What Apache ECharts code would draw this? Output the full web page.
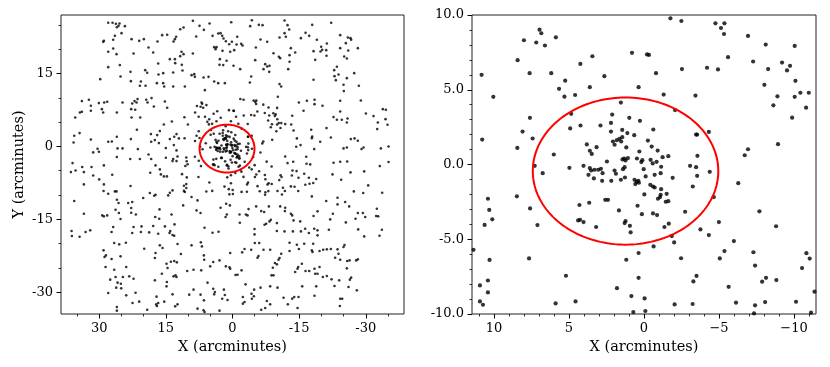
<!DOCTYPE html>
<html>
<head>
<meta charset="utf-8">
<script src="https://cdn.jsdelivr.net/npm/echarts@6/dist/echarts.min.js"></script>
<style>
  html, body { margin: 0; background: #fff; }
  #chart { width: 830px; height: 367px; }
</style>
</head>
<body>
<div id="chart"></div>
<script>
// stars inside the zoomed window (|x| < 11.5, |y| < 10), arcminutes
const starsCore = [
  [5.66,5.06],[5.25,5.61],[5.30,4.54],[4.59,4.65],[3.61,5.17],[0.36,5.17],[-1.31,4.68],[-3.43,4.61],[1.54,4.14],[4.85,3.39],
  [7.60,3.12],[2.12,3.34],[4.23,2.61],[2.90,2.61],[2.20,2.78],[0.98,3.12],[0.27,2.92],[4.92,2.41],[8.09,2.20],[7.42,1.74],
  [-0.62,2.34],[2.20,2.20],[2.07,1.54],[1.81,1.63],[1.63,1.72],[1.45,1.83],[1.11,2.10],[0.65,1.96],[1.45,2.31],[1.52,1.54],
  [1.18,1.14],[1.96,1.32],[-4.32,2.18],[-3.47,2.00],[-3.54,2.00],[3.81,1.34],[3.61,0.92],[3.48,0.71],[3.16,1.16],[-0.26,1.60],
  [-0.51,1.20],[-0.91,0.93],[0.31,0.87],[-1.24,0.49],[-1.62,0.56],[-3.56,0.58],[6.01,0.67],[4.03,-0.09],[2.47,0.20],[1.32,0.40],
  [1.23,0.27],[1.07,0.43],[1.43,0.34],[0.47,0.40],[0.11,0.29],[0.18,0.16],[-0.44,0.31],[-0.84,0.18],[-0.58,0.07],[-1.14,-0.15],
  [4.97,-0.22],[3.61,-0.24],[3.52,-0.40],[3.30,-0.35],[3.05,-0.35],[2.87,-0.29],[2.76,-0.58],[3.70,-0.69],[3.34,-0.93],[2.79,-1.09],
  [2.18,-1.09],[1.96,-0.40],[1.87,-0.62],[1.29,-0.18],[1.40,-0.31],[1.27,-0.87],[1.54,-1.02],[0.63,-1.02],[0.49,-1.16],[0.38,-1.09],
  [0.58,-1.31],[0.34,-1.22],[0.02,-0.31],[-0.11,-0.80],[-0.71,-0.69],[-1.11,-0.58],[-0.42,-1.36],[-0.60,-1.47],[-0.71,-1.54],[-1.14,-1.65],
  [-1.51,-1.96],[-1.62,-2.45],[-1.45,-2.49],[-1.11,-2.03],[-1.07,-2.18],[-0.93,-2.29],[-3.07,-0.09],[-3.47,-0.18],[-3.54,-0.76],[-4.38,-0.49],
  [-1.91,-0.89],[-3.25,-1.47],[-6.28,-1.25],[-4.65,-2.18],[7.28,-0.09],[6.75,-0.58],[-0.02,-2.00],[2.58,-2.36],[2.40,-2.36],[7.59,-2.94],
  [4.30,-2.71],[3.65,-2.56],[0.43,-2.76],[1.67,-3.07],[-2.74,-3.16],[0.14,-3.32],[-0.60,-3.27],[-0.87,-3.38],[-4.99,-3.85],[4.39,-3.74],
  [4.26,-3.70],[4.03,-3.85],[3.19,-4.18],[1.23,-3.78],[1.29,-3.92],[0.94,-4.10],[0.89,-4.54],[-1.36,-4.18],[-1.65,-3.96],[-1.85,-4.79],
  [-2.01,-5.21],[-3.76,-4.34],[-4.32,-4.72],[-5.99,-5.12],[-5.36,-5.79],[-5.05,-6.28],[7.10,-4.05],[-0.64,-5.48],[0.36,-5.92],[7.66,-6.28],
  [1.18,-6.37],[-2.07,3.64],
  [-1.76,9.78],[-2.49,9.60],[-4.76,9.44],[-5.36,9.44],[-5.13,9.13],[-5.33,8.73],[6.96,9.02],[6.84,8.78],[8.00,8.31],[7.18,8.16],
  [6.60,7.96],[5.87,8.51],[-6.93,8.60],[-8.11,8.02],[-10.04,7.93],[0.80,7.47],[-0.20,7.36],[-0.33,7.33],[3.44,7.24],[-5.60,7.18],
  [8.42,6.98],[-7.27,6.89],[-9.20,6.82],[-9.73,6.60],[-9.53,6.29],[4.24,6.73],[-4.20,6.47],[-4.93,6.36],[-2.53,6.38],[10.82,6.00],
  [7.62,6.11],[6.18,6.11],[2.64,5.91],[-0.80,6.11],[-8.27,6.38],[-8.02,5.33],[-10.09,5.60],[-8.89,4.56],[-10.04,4.53],[-10.42,4.80],
  [-10.98,4.80],[-10.80,3.80],[-8.62,3.96],[-9.87,3.13],[-8.93,1.36],[-6.93,1.02],[-6.71,0.62],[-7.69,-3.13],[-8.80,-4.13],[-7.29,-5.87],
  [-10.82,-5.93],[10.04,4.53],[10.78,1.67],[8.44,1.11],[8.47,-2.13],[10.40,-2.29],[10.31,-3.04],[10.11,-3.67],[10.62,-4.04],[11.36,-5.71],
  [10.29,-6.38],[-2.47,-6.27],[-11.04,-6.29],[-7.40,-6.76],[-10.53,-6.93],[5.20,-7.44],[-3.50,-7.45],[0.36,-7.58],[-3.29,-7.82],[-8.13,-7.58],
  [-7.87,-7.84],[-8.82,-7.73],[10.40,-7.76],[10.93,-8.09],[10.40,-8.56],[1.80,-8.27],[-5.64,-8.18],[0.84,-8.80],[-0.04,-8.96],[-11.36,-8.51],
  [10.93,-9.16],[10.73,-9.38],[5.89,-9.29],[4.56,-9.16],[-2.04,-9.36],[-3.24,-9.33],[-6.13,-9.24],[-7.40,-9.42],[-8.07,-9.20],[-10.13,-9.18],
  [0.71,-9.87],[-0.09,-9.80],[-7.33,-9.96],[-11.13,-9.91]
];

// stars of the wide field, outside the zoomed window
const starsOuter = [
  [27.97,25.45],[27.0,25.45],[26.25,25.24],[25.43,25.31],[25.65,24.83],[26.03,24.55],[24.22,24.76],[8.92,25.86],[7.42,24.83],[5.17,25.31],
  [6.44,24.0],[11.02,24.49],[11.77,24.14],[24.97,23.32],[26.48,22.77],[26.85,21.95],[28.95,21.74],[29.1,21.53],[22.72,22.09],[21.0,21.74],
  [19.95,22.09],[16.88,21.6],[15.83,22.91],[14.7,22.98],[12.68,22.57],[12.97,22.09],[13.27,21.6],[8.17,22.63],[4.49,22.77],[3.22,23.25],
  [2.7,23.32],[2.32,22.77],[2.02,22.22],[1.49,21.67],[0.74,21.05],[27.97,19.48],[26.85,20.16],[26.1,19.0],[22.27,19.14],[18.9,20.37],
  [17.85,19.34],[14.1,17.97],[12.97,17.97],[12.9,17.15],[11.77,18.59],[11.47,19.48],[11.02,19.0],[8.92,19.14],[4.12,20.44],[3.59,20.44],
  [3.82,20.03],[2.25,19.68],[27.97,16.32],[25.35,16.74],[22.95,15.36],[19.65,15.71],[19.2,15.16],[16.72,17.08],[16.65,14.81],[15.6,15.09],
  [13.35,15.23],[11.4,16.8],[11.25,15.64],[8.62,14.88],[9.22,14.68],[8.47,14.33],[6.52,14.2],[5.39,14.33],[2.84,17.97],[2.92,16.8],
  [2.09,16.74],[1.34,17.63],[29.77,13.85],[25.2,14.4],[22.87,13.44],[20.62,13.37],[20.85,12.48],[19.57,12.48],[17.02,13.03],[15.6,13.03],
  [15.37,12.35],[13.35,12.35],[10.72,12.35],[6.22,11.59],[4.12,13.37],[3.22,13.03],[1.72,13.03],[33.9,9.33],[32.33,9.6],[31.88,8.37],
  [31.88,7.34],[30.08,8.92],[28.87,9.05],[28.2,9.19],[29.4,7.68],[29.1,7.0],[26.03,7.0],[24.75,9.05],[22.57,8.85],[22.05,9.33],
  [21.37,9.74],[21.6,9.05],[22.8,7.68],[21.9,7.54],[19.42,9.6],[19.12,9.05],[18.22,9.95],[17.7,8.23],[15.22,9.26],[14.7,7.96],
  [35.4,5.97],[34.35,7.0],[33.9,7.13],[22.72,5.97],[20.77,5.97],[21.52,3.43],[15.45,4.53],[13.65,5.14],[35.62,2.19],[34.42,2.74],
  [35.77,0.82],[31.88,1.44],[27.97,0.96],[27.15,1.03],[26.03,1.99],[24.75,-0.41],[25.87,-0.41],[22.87,1.51],[21.3,-0.55],[18.37,2.54],
  [18.3,0.96],[17.48,1.3],[16.95,2.33],[16.57,0.69],[16.35,3.16],[15.0,-0.34],[14.1,1.51],[13.12,1.99],[12.6,2.54],[12.07,1.65],
  [13.2,0.27],[12.6,-0.82],[31.35,-1.23],[30.37,-0.48],[30.07,-1.1],[26.03,-2.19],[23.02,-2.6],[20.85,-2.6],[18.9,-1.65],[18.3,-2.6],
  [15.0,-2.33],[13.35,-2.6],[12.37,-2.06],
  [0.29,25.58],[-4.36,25.99],[-3.98,24.76],[-5.93,25.03],[-6.76,24.97],[-11.71,25.93],[-12.39,24.97],[-12.76,24.08],[-17.94,25.03],[-22.21,25.45],
  [-11.71,23.32],[-10.59,22.43],[-12.01,22.57],[-6.31,22.02],[-7.81,21.54],[-1.06,22.57],[-16.44,23.39],[-17.26,22.77],[-15.39,22.29],[-18.99,21.95],
  [-24.24,22.91],[-25.96,22.43],[-26.56,22.29],[-26.71,21.95],[-25.51,21.26],[-21.24,21.19],[0.14,21.54],[-0.91,20.99],[-1.96,21.12],[-2.26,20.78],
  [-5.26,20.37],[-0.38,19.82],[0.52,19.48],[-9.23,19.2],[-10.43,18.45],[-10.73,18.18],[-12.84,18.79],[-13.13,20.23],[-14.11,19.34],[-18.24,19.62],
  [-19.96,20.51],[-20.19,19.89],[-19.81,19.55],[-21.09,19.82],[-24.24,20.23],[-28.21,20.23],[-26.04,19.75],[-5.11,17.76],[-7.36,16.94],[-7.81,16.46],
  [-8.33,16.6],[-6.98,15.91],[-8.26,15.36],[-12.84,17.42],[-12.54,15.91],[-0.23,16.6],[-1.73,15.91],[-18.61,17.83],[-21.16,18.66],[-25.14,18.52],
  [-25.74,18.11],[-23.49,16.39],[-22.89,15.71],[-23.86,14.81],[-4.21,14.4],[-3.91,13.17],[-10.59,12.83],[-10.96,12.35],[-18.24,13.72],[-22.96,14.47],
  [-23.26,13.65],[-25.74,14.06],[-27.39,15.09],[-24.99,12.69],[-25.06,11.39],[-28.44,12.48],[-10.21,10.22],[-14.94,9.05],[-16.74,9.4],[-18.46,9.6],
  [-18.46,8.71],[-20.26,8.37],[-15.99,7.34],[-24.24,9.4],[-28.89,9.47],[-24.24,7.2],[-22.74,6.04],[-23.49,5.49],[-24.61,5.49],[-25.89,5.76],
  [-25.74,4.94],[-30.02,6.79],[-31.74,6.24],[-33.84,7.68],[-34.52,7.54],[-32.71,4.94],[-34.44,5.62],[-34.89,4.46],[-32.57,3.57],[-11.86,4.6],
  [-13.44,6.31],[-13.21,4.53],[-13.74,3.29],[-17.71,3.43],[-21.16,3.77],[-17.94,2.06],[-17.86,1.71],[-14.49,1.65],[-19.74,0.96],[-22.14,1.85],
  [-15.31,0.27],[-14.34,-0.07],[-18.39,-0.55],[-24.99,-0.41],[-25.74,-0.21],[-26.64,1.51],[-27.47,1.65],[-28.21,1.17],[-29.49,-0.21],[-29.04,-0.55],
  [-33.39,-0.41],[-35.12,0],[-11.86,-2.06],[-16.59,-2.13],
  [36.0,-3.43],[33.83,-4.25],[31.73,-4.25],[35.32,-4.94],[36.37,-5.28],[33.45,-5.28],[31.35,-5.97],[30.0,-6.79],[28.95,-3.91],[27.07,-5.83],
  [33.45,-7.82],[28.95,-7.82],[29.02,-9.19],[27.97,-9.74],[26.47,-9.26],[26.1,-9.26],[22.95,-8.16],[18.52,-5.42],[17.32,-3.91],[16.35,-4.73],
  [16.12,-5.76],[15.45,-6.17],[14.77,-6.17],[13.5,-3.02],[12.6,-3.02],[35.62,-11.25],[33.45,-13.85],[29.32,-14.2],[28.95,-14.4],[28.2,-14.2],
  [26.02,-10.97],[25.65,-11.66],[26.32,-13.03],[25.57,-13.72],[25.2,-14.95],[23.47,-11.66],[22.57,-11.45],[22.8,-12.69],[22.8,-13.65],[21.75,-14.0],
  [20.1,-10.63],[18.6,-9.6],[17.62,-10.15],[17.32,-9.95],[16.42,-12.96],[17.4,-14.54],[16.5,-14.88],[14.47,-10.08],[14.1,-9.53],[13.5,-9.05],
  [13.72,-14.0],[13.05,-16.05],[11.1,-12.14],[9.22,-10.42],[7.87,-11.11],[8.09,-13.17],[7.19,-13.72],[2.69,-12.62],[1.42,-11.8],[1.27,-14.0],
  [1.57,-14.54],[0.59,-12.14],[36.22,-17.42],[36.15,-18.45],[34.42,-18.59],[33.07,-17.63],[32.02,-17.28],[27.22,-17.63],[26.85,-16.6],[22.57,-17.83],
  [22.27,-16.6],[20.47,-16.46],[20.62,-17.63],[18.75,-17.7],[17.85,-16.39],[15.22,-16.46],[14.02,-17.42],[14.17,-17.83],[13.5,-18.24],[13.12,-18.38],
  [16.72,-17.97],[6.29,-16.74],[4.49,-17.76],[3.14,-17.56],[29.02,-21.4],[28.5,-22.43],[28.8,-22.77],[27.22,-23.18],[26.62,-19.89],[25.5,-20.16],
  [24.0,-19.82],[25.2,-22.63],[23.92,-24.83],[19.87,-21.06],[17.32,-21.95],[17.47,-22.98],[16.35,-20.37],[15.75,-20.92],[13.87,-23.73],[13.12,-23.59],
  [12.52,-23.87],[14.85,-24.14],[14.62,-25.03],[12.37,-20.1],[11.62,-22.15],[9.22,-20.37],[7.12,-19.75],[6.89,-20.58],[6.44,-22.43],[6.37,-23.32],
  [4.34,-23.8],[2.92,-23.46],[5.02,-24.69],[1.49,-24.69],[0.67,-24.9],[28.57,-24.83],[26.62,-25.38],[27.52,-27.43],[26.32,-26.89],[24.67,-26.89],
  [23.25,-26.75],[22.27,-27.23],[25.87,-28.05],[25.12,-28.26],[26.17,-29.08],[25.05,-29.22],[27.97,-30.18],[23.92,-30.66],[21.82,-30.11],[17.47,-27.57],
  [15.9,-26.2],[14.77,-27.91],[14.85,-28.81],[13.27,-26.75],[12.82,-26.54],[12.6,-26.89],[13.5,-30.45],[10.19,-25.65],[8.77,-25.38],[7.04,-25.51],
  [9.74,-30.52],[8.77,-29.49],[7.19,-30.52],[6.44,-31.69],[5.62,-28.05],[4.34,-29.29],[3.97,-29.97],[4.12,-30.45],[1.94,-29.49],[1.72,-30.59],
  [2.32,-31.35],[1.12,-31.62],[22.5,-32.24],[21.0,-31.96],[19.2,-33.61],[17.1,-30.93],[17.17,-32.51],[16.72,-32.24],[17.02,-32.85],[15.37,-31.96],
  [12.9,-32.92],[12.37,-32.51],[7.87,-33.4],[6.52,-33.74],[6.29,-34.09],[2.92,-33.81],[26.03,-33.06],[26.03,-33.81],
  [-12.39,-3.43],[-13.66,-3.16],[-16.66,-3.57],[-17.49,-3.7],[-22.74,-3.36],[-24.24,-3.16],[-25.81,-3.09],[-26.56,-5.35],[-29.64,-5.14],[-33.16,-4.05],
  [-35.12,-3.22],[-13.51,-4.94],[-14.41,-5.08],[-16.14,-5.62],[-13.36,-5.97],[-17.19,-6.45],[-18.84,-6.72],[-14.86,-6.45],[-16.39,-7.89],[-17.34,-7.68],
  [-18.17,-7.54],[-13.14,-8.23],[-13.96,-8.3],[-11.79,-9.19],[-14.79,-9.19],[-22.51,-5.76],[-24.46,-6.86],[-27.31,-9.26],[-29.42,-9.6],[-30.54,-8.02],
  [-33.69,-9.53],[-17.86,-10.29],[-21.09,-11.25],[-23.64,-10.56],[-23.64,-11.93],[-25.36,-11.45],[-26.26,-12.35],[-28.21,-13.72],[-29.34,-13.72],[-29.87,-14.54],
  [-27.69,-14.88],[-32.49,-12.83],[-32.34,-14.33],[-32.79,-14.4],[-33.62,-17.15],[-33.09,-18.38],[-25.51,-15.64],[-21.99,-15.02],[-22.59,-13.85],[-19.14,-13.37],
  [-18.24,-14.33],[-15.24,-15.43],[-13.74,-15.23],[-13.44,-14.2],[-13.14,-13.85],[-11.79,-13.31],[-11.86,-12.62],[-10.74,-12.35],[-8.18,-12.35],[-7.13,-13.51],
  [-6.46,-13.31],[-5.33,-12.35],[-3.61,-12.9],[-1.58,-14.0],[-3.01,-14.0],[-3.38,-14.2],[-1.66,-15.71],[-8.63,-15.09],[-8.33,-15.43],[-7.58,-15.91],
  [-7.21,-16.12],[-9.99,-15.78],[-9.99,-17.42],[-11.71,-17.49],[-13.59,-17.49],[-15.39,-17.49],[-16.36,-16.94],[-17.19,-17.83],[-18.39,-16.94],[-19.14,-17.28],
  [-19.14,-18.31],[-21.69,-17.15],[-28.29,-17.08],[-29.64,-18.52],[-4.96,-17.01],[-4.96,-18.11],[-5.03,-19.89],[-6.01,-19.89],[-6.98,-21.26],[-2.71,-21.12],
  [-2.18,-21.81],[-4.21,-21.26],[-5.86,-22.56],[-5.63,-22.91],[-8.48,-21.26],[-10.96,-22.09],[-10.59,-22.98],[-10.36,-23.32],[-9.54,-24.01],[-9.99,-24.28],
  [-9.08,-24.97],[-8.78,-26.54],[-9.23,-26.54],[-12.84,-19.82],[-12.84,-21.54],[-14.49,-20.23],[-14.94,-21.12],[-16.14,-20.03],[-17.86,-21.4],[-18.16,-20.03],
  [-19.59,-21.54],[-18.01,-21.74],[-20.41,-21.26],[-21.24,-21.19],[-22.14,-21.12],[-23.64,-21.19],[-25.21,-20.3],[-24.99,-20.71],[-23.86,-22.09],[-23.11,-22.91],
  [-24.24,-23.32],[-25.81,-23.59],[-26.34,-23.46],[-27.84,-23.46],[-28.21,-23.25],[-25.74,-25.1],[-15.61,-24.14],[-14.79,-24.83],[-14.63,-25.17],[-14.11,-25.86],
  [-16.44,-25.65],[-17.26,-25.65],[-18.61,-26.2],[-19.14,-26.2],[-18.46,-25.17],[-19.59,-24.83],[-20.34,-26.89],[-21.24,-26.68],[-22.29,-27.37],[-24.01,-27.57],
  [-26.41,-27.43],[-26.71,-27.02],[-22.96,-28.74],[-26.11,-28.94],[-27.99,-29.63],[-18.84,-28.81],[-15.69,-28.81],[-18.46,-30.73],[-13.89,-31.0],[-14.86,-31.0],
  [-13.44,-31.34],[-12.46,-32.51],[-14.64,-33.27],[-11.49,-31.14],[-8.48,-28.81],[-10.13,-29.08],[-6.31,-29.08],[-4.88,-29.49],[-2.93,-28.4],[-0.68,-26.47],
  [-1.13,-26.41],[-2.03,-25.51],[0.52,-25.17],[0.52,-21.95],[-4.28,-30.32],[-4.81,-30.86],[-4.36,-31.35],[-2.33,-31.0],[-2.71,-32.03],[-2.33,-32.37],
  [-7.73,-31.82],[-8.48,-32.51],[-6.46,-33.61],[-7.36,-33.27],[-24.24,-31.35],[-24.69,-31.35],[-24.16,-32.85]
];

// red ellipse: centre x, centre y, radius x, radius y
const ellipse = [1.23, -0.44, 6.18, 4.92];

const leftTicksX = [30, 15, 0, -15, -30];
const leftTicksY = [15, 0, -15, -30];
const leftMinorX = [35, 25, 20, 10, 5, -5, -10, -20, -25, -35];
const leftMinorY = [25, 20, 10, 5, -5, -10, -20, -25];
const rightTicksX = [10, 5, 0, -5, -10];
const rightTicksY = [10, 5, 0, -5, -10];
const rightMinorX = [11, 9, 8, 7, 6, 4, 3, 2, 1, -1, -2, -3, -4, -6, -7, -8, -9, -11];
const rightMinorY = [9, 8, 7, 6, 4, 3, 2, 1, -1, -2, -3, -4, -6, -7, -8, -9];

const FONT = 'DejaVu Serif';
const allStars = starsCore.concat(starsOuter);

function makeAxes(gridIndex, position, min, max, inverse, major, minor, fmt, name, nameGap) {
  const base = {
    type: 'value',
    gridIndex,
    position,
    min,
    max,
    inverse,
    splitLine: { show: false },
    axisLine: { show: false, onZero: false },
  };
  return [
    {
      ...base,
      name,
      nameLocation: 'middle',
      nameGap,
      nameTextStyle: { fontFamily: FONT, fontSize: 14.5, color: '#000' },
      axisTick: { show: true, length: 4.5, customValues: major, lineStyle: { color: '#000', width: 1 } },
      axisLabel: { customValues: major, formatter: fmt, fontFamily: FONT, fontSize: 13, color: '#000', margin: 8 },
    },
    {
      ...base,
      axisTick: { show: true, length: 2.5, customValues: minor, lineStyle: { color: '#000', width: 0.8 } },
      axisLabel: { show: false },
    },
  ];
}

const plain = (v) => String(v);
const minusSign = (v) => (v < 0 ? '\u2212' + Math.abs(v) : String(v));
const oneDecimal = (v) => v.toFixed(1);

function ellipseSeries(axisIndex) {
  return {
    type: 'custom',
    xAxisIndex: axisIndex,
    yAxisIndex: axisIndex,
    data: [ellipse],
    clip: true,
    silent: true,
    z: 10,
    renderItem(params, api) {
      const cx = api.value(0), cy = api.value(1), rx = api.value(2), ry = api.value(3);
      const points = [];
      for (let i = 0; i <= 160; i++) {
        const t = (i / 160) * Math.PI * 2;
        points.push(api.coord([cx + rx * Math.cos(t), cy + ry * Math.sin(t)]));
      }
      return { type: 'polygon', shape: { points }, style: { fill: 'none', stroke: '#ff0000', lineWidth: 2 } };
    },
  };
}

const chart = echarts.init(document.getElementById('chart'), null, { renderer: 'canvas' });
chart.setOption({
  animation: false,
  backgroundColor: '#fff',
  grid: [
    { left: 61, top: 15, width: 343, height: 299, show: true, borderColor: '#222', borderWidth: 1 },
    { left: 472, top: 15, width: 344, height: 299, show: true, borderColor: '#222', borderWidth: 1 },
  ],
  xAxis: [
    ...makeAxes(0, 'bottom', -38.6, 38.6, true, leftTicksX, leftMinorX, plain, 'X (arcminutes)', 26),
    ...makeAxes(1, 'bottom', -11.46, 11.46, true, rightTicksX, rightMinorX, minusSign, 'X (arcminutes)', 26),
  ],
  yAxis: [
    ...makeAxes(0, 'left', -34.5, 27.06, false, leftTicksY, leftMinorY, plain, 'Y (arcminutes)', 34),
    ...makeAxes(1, 'left', -10, 10, false, rightTicksY, rightMinorY, oneDecimal, '', 30),
  ],
  series: [
    {
      type: 'scatter',
      xAxisIndex: 0,
      yAxisIndex: 0,
      data: allStars,
      symbolSize: 2.6,
      itemStyle: { color: '#000' },
      silent: true,
      clip: true,
    },
    {
      type: 'scatter',
      xAxisIndex: 2,
      yAxisIndex: 2,
      data: allStars,
      symbolSize: 4.2,
      itemStyle: { color: '#000' },
      silent: true,
      clip: true,
    },
    ellipseSeries(0),
    ellipseSeries(2),
  ],
});
</script>
</body>
</html>
